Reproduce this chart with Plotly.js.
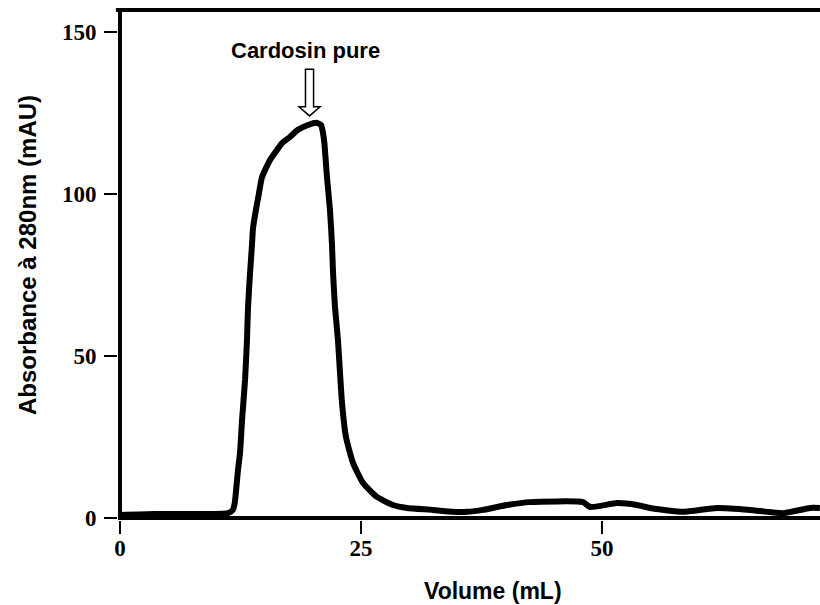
<!DOCTYPE html>
<html>
<head>
<meta charset="utf-8">
<script src="https://cdn.plot.ly/plotly-3.0.1.min.js"></script>
<style>html,body{margin:0;padding:0;background:#fff;}#chart{width:820px;height:605px;}</style>
</head>
<body>
<div id="chart"></div>
<script>
// Elution volume (mL)
const volume = [0, 3.6, 8.3, 11.2, 11.7, 11.9, 12.24, 12.45, 12.66, 12.97, 13.17, 13.28, 13.49, 13.69, 13.8, 14.1, 14.4, 14.73, 15.56, 16.29, 16.8, 17.63, 18.46, 19.5, 20.33, 20.85, 21.06, 21.2, 21.47, 21.78, 21.99, 22.1, 22.3, 22.61, 22.82, 23.03, 23.44, 24.17, 25.21, 26.66, 28.32, 29.77, 32.47, 34.54, 36.0, 37.66, 40.15, 42.53, 48.03, 48.76, 51.56, 53.63, 54.98, 58.4, 61.93, 65.35, 68.78, 71.58, 72.6];
// Absorbance at 280 nm (mAU)
const absorbance = [0.9, 1.2, 1.2, 1.5, 2.5, 4.6, 14.8, 20.1, 30.2, 42.6, 54.9, 65.1, 75.6, 84.3, 89.5, 95.1, 100.0, 105.2, 110.5, 113.6, 115.7, 117.6, 119.8, 121.3, 122.0, 121.3, 118.8, 115.7, 105.2, 95.1, 84.3, 75.6, 65.1, 54.9, 44.8, 35.5, 25.0, 17.0, 10.8, 6.5, 4.0, 3.1, 2.5, 1.9, 1.9, 2.5, 4.0, 4.9, 4.9, 3.4, 4.6, 4.0, 3.1, 1.9, 3.1, 2.5, 1.5, 3.1, 3.1];

const xTicks = [0, 25, 50];
const yTicks = [0, 50, 100, 150];

const peakLabel = 'Cardosin pure';
const peakVolume = 19.66;
const arrowTop = 138.5, arrowHeadBase = 126.9, arrowTip = 124.1;
const shaftHalf = 0.42, headHalf = 1.09;

const arrowPath = 'M ' + (peakVolume - shaftHalf) + ',' + arrowTop +
  ' L ' + (peakVolume + shaftHalf) + ',' + arrowTop +
  ' L ' + (peakVolume + shaftHalf) + ',' + arrowHeadBase +
  ' L ' + (peakVolume + headHalf) + ',' + arrowHeadBase +
  ' L ' + peakVolume + ',' + arrowTip +
  ' L ' + (peakVolume - headHalf) + ',' + arrowHeadBase +
  ' L ' + (peakVolume - shaftHalf) + ',' + arrowHeadBase + ' Z';

const tickFont = {family: '"Liberation Serif", "Times New Roman", serif', size: 23, color: '#000', weight: 'bold'};
const sans = '"Liberation Sans", Arial, sans-serif';

const trace = {
  x: volume, y: absorbance, type: 'scatter', mode: 'lines',
  line: {color: '#000', width: 6, shape: 'spline', smoothing: 0.5}, hoverinfo: 'skip'
};

const layout = {
  width: 820, height: 605,
  margin: {l: 118, r: 0, t: 10, b: 85},
  paper_bgcolor: '#fff', plot_bgcolor: '#fff',
  showlegend: false,
  xaxis: {
    range: [-0.2075, 72.61], tickvals: xTicks, ticktext: xTicks.map(String),
    showgrid: false, showline: false, zeroline: true, zerolinecolor: '#000', zerolinewidth: 4,
    ticks: 'outside', ticklen: 13, tickwidth: 2, tickcolor: '#000', ticklabelstandoff: -6,
    tickfont: tickFont, fixedrange: true
  },
  yaxis: {
    range: [-0.617, 156.79], tickvals: yTicks, ticktext: yTicks.map(String),
    showgrid: false, showline: false, zeroline: true, zerolinecolor: '#000', zerolinewidth: 4,
    ticks: 'outside', ticklen: 13, tickwidth: 2, tickcolor: '#000', ticklabelstandoff: 3,
    tickfont: tickFont, fixedrange: true
  },
  shapes: [
    {type: 'line', xref: 'paper', yref: 'paper', x0: -0.003, x1: 1, y0: 1, y1: 1, line: {color: '#000', width: 4}},
    {type: 'path', xref: 'x', yref: 'y', path: arrowPath, fillcolor: '#fff', line: {color: '#000', width: 1.5}}
  ],
  annotations: [
    {text: peakLabel, x: 19.19, y: 144.4, xref: 'x', yref: 'y', showarrow: false,
     xanchor: 'center', yanchor: 'middle', font: {family: sans, size: 22, color: '#000', weight: 'bold'}},
    {text: 'Volume (mL)', x: 0.534, y: -0.139, xref: 'paper', yref: 'paper', showarrow: false,
     xanchor: 'center', yanchor: 'middle', font: {family: sans, size: 23, color: '#000', weight: 'bold'}},
    {text: 'Absorbance à 280nm (mAU)', x: -0.1296, y: 0.5196, xref: 'paper', yref: 'paper', showarrow: false,
     textangle: -90, xanchor: 'center', yanchor: 'middle', font: {family: sans, size: 24, color: '#000', weight: 'bold'}}
  ]
};

Plotly.newPlot('chart', [trace], layout, {staticPlot: true, displayModeBar: false});
</script>
</body>
</html>
